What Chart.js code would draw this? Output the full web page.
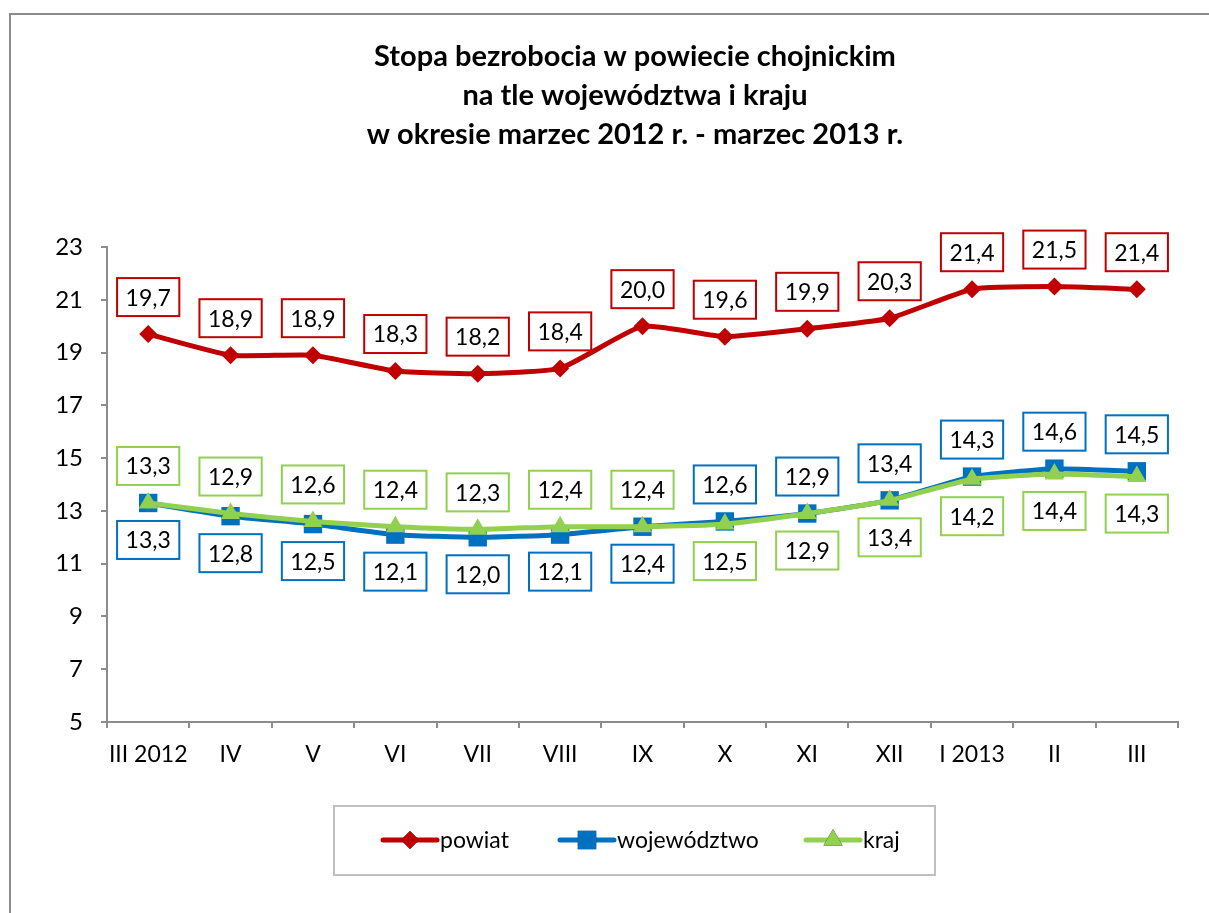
<!DOCTYPE html>
<html lang="pl">
<head>
<meta charset="utf-8">
<title>Stopa bezrobocia</title>
<script src="https://cdn.jsdelivr.net/npm/chart.js@4/dist/chart.umd.min.js"></script>
<style>
  html, body { margin: 0; padding: 0; background: #fff; }
  #chart { display: block; }
</style>
</head>
<body>
<canvas id="chart" width="1209" height="913"></canvas>
<script>
  // dane (marzec 2012 - marzec 2013)
  const categories = ["III 2012", "IV", "V", "VI", "VII", "VIII", "IX", "X", "XI", "XII", "I 2013", "II", "III"];
  const powiat      = [19.7, 18.9, 18.9, 18.3, 18.2, 18.4, 20.0, 19.6, 19.9, 20.3, 21.4, 21.5, 21.4];
  const wojewodztwo = [13.3, 12.8, 12.5, 12.1, 12.0, 12.1, 12.4, 12.6, 12.9, 13.4, 14.3, 14.6, 14.5];
  const kraj        = [13.3, 12.9, 12.6, 12.4, 12.3, 12.4, 12.4, 12.5, 12.9, 13.4, 14.2, 14.4, 14.3];
  const yMin = 5, yMax = 23, yStep = 2;

  const titleLines = [
    "Stopa bezrobocia w powiecie chojnickim",
    "na tle województwa i kraju",
    "w okresie marzec 2012 r. - marzec 2013 r."
  ];

  const FONT = "Lato, 'Open Sans', sans-serif";
  const RED = "#C00000", BLUE = "#0070C0", GREEN = "#92D050";

  function fmt(v) {
    return v.toFixed(1).replace(".", ",");
  }

  const backgroundAndFrame = {
    id: "backgroundAndFrame",
    beforeDraw(chart) {
      const ctx = chart.ctx;
      ctx.save();
      ctx.fillStyle = "#fff";
      ctx.fillRect(0, 0, chart.width, chart.height);
      ctx.strokeStyle = "#8c8c8c";
      ctx.lineWidth = 2;
      ctx.strokeRect(10, 14, chart.width + 20, chart.height + 20);

      ctx.fillStyle = "#000";
      ctx.font = "bold 29px " + FONT;
      ctx.textAlign = "center";
      ctx.textBaseline = "middle";
      titleLines.forEach((t, i) => ctx.fillText(t, 635, 57 + i * 39));
      ctx.restore();
    }
  };

  // ramki z wartościami nad / pod punktami
  const boxLabels = {
    id: "boxLabels",
    afterDatasetsDraw(chart) {
      const ctx = chart.ctx;
      ctx.save();
      ctx.font = "23px " + FONT;
      ctx.textAlign = "center";
      ctx.textBaseline = "middle";
      chart.data.datasets.forEach((ds, di) => {
        const meta = chart.getDatasetMeta(di);
        meta.data.forEach((pt, i) => {
          const side = ds.labelSide ? ds.labelSide[i] : "above";
          const cy = pt.y + (side === "above" ? -37 : 37);
          const text = fmt(ds.data[i]);
          const w = ctx.measureText(text).width + 17;
          const h = 38;
          ctx.fillStyle = "#fff";
          ctx.fillRect(pt.x - w / 2, cy - h / 2, w, h);
          ctx.strokeStyle = ds.borderColor;
          ctx.lineWidth = 2;
          ctx.strokeRect(pt.x - w / 2, cy - h / 2, w, h);
          ctx.fillStyle = "#000";
          ctx.fillText(text, pt.x, cy + 1);
        });
      });
      ctx.restore();
    }
  };

  const boxLegend = {
    id: "boxLegend",
    afterDraw(chart) {
      const ctx = chart.ctx;
      const cy = 840;
      ctx.save();
      ctx.strokeStyle = "#bfbfbf";
      ctx.lineWidth = 2;
      ctx.strokeRect(334, 806, 601, 69);
      ctx.font = "23px " + FONT;
      ctx.textBaseline = "middle";
      ctx.textAlign = "left";
      const starts = [383, 560, 806];
      chart.data.datasets.forEach((ds, di) => {
        const x0 = starts[di];
        ctx.strokeStyle = ds.borderColor;
        ctx.lineWidth = 5;
        ctx.lineCap = "round";
        ctx.beginPath();
        ctx.moveTo(x0, cy);
        ctx.lineTo(x0 + 54, cy);
        ctx.stroke();
        Chart.helpers.drawPoint(ctx, {
          pointStyle: ds.pointStyle,
          radius: ds.pointRadius,
          rotation: 0,
          borderWidth: 0
        }, x0 + 27, cy);
        ctx.fillStyle = ds.borderColor;
        ctx.fill();
        ctx.fillStyle = "#000";
        ctx.fillText(ds.label, x0 + 57, cy + 1);
      });
      ctx.restore();
    }
  };

  function line(label, data, color, style, radius, order, labelSide) {
    return {
      label,
      data,
      borderColor: color,
      backgroundColor: color,
      borderWidth: 5,
      borderJoinStyle: "round",
      pointStyle: style,
      pointRadius: radius,
      pointHoverRadius: radius,
      pointBackgroundColor: color,
      pointBorderColor: color,
      pointBorderWidth: 0,
      tension: 0.15,
      order,
      labelSide
    };
  }

  const below7 = categories.map((_, i) => (i < 7 ? "below" : "above"));
  const above7 = categories.map((_, i) => (i < 7 ? "above" : "below"));

  new Chart(document.getElementById("chart"), {
    type: "line",
    data: {
      labels: categories,
      datasets: [
        line("powiat", powiat, RED, "rectRot", 9, 2, null),
        line("województwo", wojewodztwo, BLUE, "rect", 13, 1, below7),
        line("kraj", kraj, GREEN, "triangle", 11, 0, above7)
      ]
    },
    options: {
      responsive: false,
      animation: false,
      layout: { padding: { left: 0, top: 247, right: 31, bottom: 131 } },
      plugins: {
        legend: { display: false },
        title: { display: false },
        tooltip: { enabled: false }
      },
      scales: {
        x: {
          offset: true,
          grid: { offset: true, drawOnChartArea: false, tickLength: 6, color: "#8c8c8c", lineWidth: 2 },
          border: { color: "#8c8c8c", width: 2 },
          ticks: { color: "#000", font: { family: FONT, size: 23 }, padding: 13, maxRotation: 0, autoSkip: false },
          afterFit(scale) { scale.height = 60; }
        },
        y: {
          min: yMin,
          max: yMax,
          grid: { drawOnChartArea: false, tickLength: 6, color: "#8c8c8c", lineWidth: 2 },
          border: { color: "#8c8c8c", width: 2 },
          ticks: { stepSize: yStep, color: "#000", font: { family: FONT, size: 24 }, padding: 18 },
          afterFit(scale) { scale.width = 107; }
        }
      }
    },
    plugins: [backgroundAndFrame, boxLabels, boxLegend]
  });
</script>
</body>
</html>
